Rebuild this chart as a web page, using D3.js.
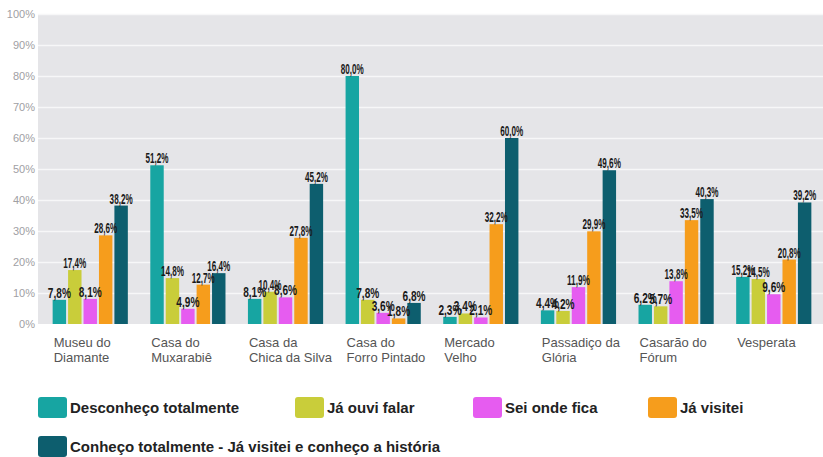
<!DOCTYPE html>
<html>
<head>
<meta charset="utf-8">
<script src="https://cdn.jsdelivr.net/npm/d3@7"></script>
<style>
  body { margin: 0; background: #fff; }
  svg { display: block; }
</style>
</head>
<body>
<svg id="chart"></svg>
<script>
// categories (two-line labels) and series
const categories = [
  ["Museu do", "Diamante"],
  ["Casa do", "Muxarabiê"],
  ["Casa da", "Chica da Silva"],
  ["Casa do", "Forro Pintado"],
  ["Mercado", "Velho"],
  ["Passadiço da", "Glória"],
  ["Casarão do", "Fórum"],
  ["Vesperata"]
];
const seriesNames = [
  "Desconheço totalmente",
  "Já ouvi falar",
  "Sei onde fica",
  "Já visitei",
  "Conheço totalmente - Já visitei e conheço a história"
];
const desconheco = [7.8, 51.2, 8.1, 80.0, 2.3, 4.4, 6.2, 15.2];
const jaOuvi     = [17.4, 14.8, 10.4, 7.8, 3.4, 4.2, 5.7, 14.5];
const seiOnde    = [8.1, 4.9, 8.6, 3.6, 2.1, 11.9, 13.8, 9.6];
const jaVisitei  = [28.6, 12.7, 27.8, 1.8, 32.2, 29.9, 33.5, 20.8];
const conheco    = [38.2, 16.4, 45.2, 6.8, 60.0, 49.6, 40.3, 39.2];
const yTicks = [0, 10, 20, 30, 40, 50, 60, 70, 80, 90, 100];

const colors = ["#17a5a2", "#c9cd3a", "#e65cf0", "#f69d1c", "#0d5e6e"];
const allSeries = [desconheco, jaOuvi, seiOnde, jaVisitei, conheco];

const W = 823, H = 457;
const plot = {left: 38, right: 823, top: 14, bottom: 324};

const svg = d3.select("#chart").attr("width", W).attr("height", H);

const catIdx = d3.range(categories.length);
const x0 = d3.scaleBand().domain(catIdx).range([38, 826])
  .paddingInner(0.23).paddingOuter(0.15);
const x1 = d3.scaleBand().domain(d3.range(allSeries.length))
  .range([0, x0.bandwidth()]).paddingInner(0.13).paddingOuter(0);
const y = d3.scaleLinear().domain([0, 100]).range([plot.bottom, plot.top]);

// plot background
svg.append("rect")
  .attr("x", plot.left).attr("y", plot.top)
  .attr("width", plot.right - plot.left).attr("height", plot.bottom - plot.top)
  .attr("fill", "#e5e5e8");

// gridlines + y labels
svg.append("g").selectAll("line").data(yTicks.slice(1)).join("line")
  .attr("x1", plot.left).attr("x2", plot.right)
  .attr("y1", d => y(d) + 0.5).attr("y2", d => y(d) + 0.5)
  .attr("stroke", "#f7f7f8").attr("stroke-width", 1.5);

svg.append("g").selectAll("text").data(yTicks).join("text")
  .attr("x", 35).attr("y", d => y(d) + 4)
  .attr("text-anchor", "end")
  .attr("font-family", "Liberation Sans, Arial, sans-serif")
  .attr("font-size", 11).attr("fill", "#a0a0a4")
  .text(d => d + "%");

// bars
const groups = svg.append("g").selectAll("g").data(catIdx).join("g")
  .attr("transform", i => `translate(${x0(i)},0)`);

groups.selectAll("rect")
  .data(i => allSeries.map((s, k) => ({k, v: s[i]})))
  .join("rect")
  .attr("x", d => x1(d.k)).attr("width", x1.bandwidth())
  .attr("y", d => y(d.v)).attr("height", d => y(0) - y(d.v))
  .attr("fill", d => colors[d.k]);

// value labels, squeezed to look like a narrow bold face
groups.selectAll("text.val")
  .data(i => allSeries.map((s, k) => ({k, v: s[i]})))
  .join("text")
  .attr("class", "val")
  .attr("x", d => x1(d.k) + x1.bandwidth() / 2)
  .attr("y", d => y(d.v) - 2)
  .attr("text-anchor", "middle")
  .attr("font-family", "Liberation Sans, Arial, sans-serif")
  .attr("font-weight", "bold")
  .attr("font-size", 14)
  .attr("textLength", 23)
  .attr("lengthAdjust", "spacingAndGlyphs")
  .attr("fill", "#1a1a1a")
  .text(d => d.v.toFixed(1).replace(".", ",") + "%");

// category labels
const catLabels = svg.append("g").selectAll("text").data(catIdx).join("text")
  .attr("x", i => x0(i) + 1)
  .attr("y", 347)
  .attr("font-family", "Liberation Sans, Arial, sans-serif")
  .attr("font-size", 13).attr("fill", "#555");
catLabels.selectAll("tspan").data(i => categories[i]).join("tspan")
  .attr("x", function () { return d3.select(this.parentNode).attr("x"); })
  .attr("dy", (d, j) => j === 0 ? 0 : 15)
  .text(d => d);

// legend
const legendPos = [[38, 397], [295, 397], [473, 397], [648, 397], [38, 436]];
const legend = svg.append("g").selectAll("g").data(seriesNames).join("g")
  .attr("transform", (d, k) => `translate(${legendPos[k][0]},${legendPos[k][1]})`);
legend.append("rect")
  .attr("width", 29).attr("height", 21).attr("rx", 3)
  .attr("fill", (d, k) => colors[k]);
legend.append("text")
  .attr("x", 32).attr("y", 16)
  .attr("font-family", "Liberation Sans, Arial, sans-serif")
  .attr("font-weight", "bold").attr("font-size", 15)
  .attr("fill", "#222")
  .text(d => d);
</script>
</body>
</html>
